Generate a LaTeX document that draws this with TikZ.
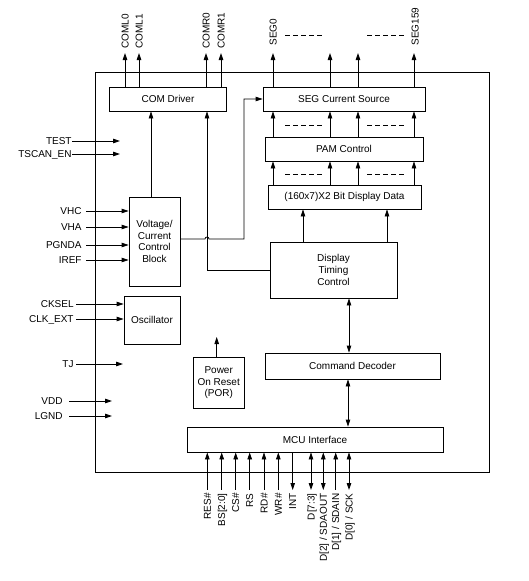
\documentclass[tikz,border=0pt]{standalone}
\usepackage{fontspec}
\setmainfont{Liberation Sans}
\usetikzlibrary{arrows.meta,calc}

\tikzset{
  blk/.style={draw, inner sep=1pt, align=center, font=\fontsize{10}{11.7}\selectfont},
  lbl/.style={inner sep=0pt, text height=7pt, text depth=0pt, font=\fontsize{10}{11.7}\selectfont},
  dashrow/.style={dash pattern=on 5pt off 3pt},
  pinin/.style={<-},
  pinout/.style={->},
  pinbi/.style={<->},
}

\begin{document}
\begin{tikzpicture}[x=1pt, y=-1pt, line width=0.8pt, >={Triangle[length=7pt,width=4.5pt]}]

    \useasboundingbox (0,0) rectangle (528,581);

    % 外枠
    \draw (95,72) rectangle (489,472);

    % ブロック
    \node[blk, minimum width=117pt, minimum height=24pt] (com) at (168,99) {COM Driver};
    \node[blk, minimum width=162pt, minimum height=24pt] (seg) at (344,99) {SEG Current Source};
    \node[blk, minimum width=158pt, minimum height=24pt] (pam) at (344,149) {PAM Control};
    \node[blk, minimum width=153pt, minimum height=24pt] (ram) at (344.5,197) {(160x7)X2 Bit Display Data};
    \node[blk, minimum width=127pt, minimum height=56pt] (dtc) at (333.5,270) {Display\\Timing\\Control};
    \node[blk, minimum width=175pt, minimum height=26pt] (cmd) at (352.5,366) {Command Decoder};
    \node[blk, minimum width=256pt, minimum height=25pt] (mcu) at (315,439.5) {MCU Interface};
    \node[blk, minimum width=51pt, minimum height=89pt] (vcc) at (154.5,241.5) {Voltage/\\Current\\Control\\Block};
    \node[blk, minimum width=56pt, minimum height=48pt] (osc) at (152,320) {Oscillator};
    \node[blk, minimum width=51pt, minimum height=51pt] (por) at (218.7,382.7) {Power\\On Reset\\(POR)};

    % COM出力
    \foreach \x/\t [count=\i] in {125/COML0, 139/COML1, 206/COMR0, 221/COMR1} {
        \coordinate (c\i) at (\x,53);
        \draw[->] (com.north -| c\i) -- (c\i);
        \node[lbl, rotate=90, anchor=west] (cl\i) at (\x,49) {\t};
    }

    % SEG出力・PAM・表示データ
    \foreach \x [count=\i] in {273,330,358,414} {
        \coordinate (s\i) at (\x,53);
        \draw[->] (seg.north -| s\i) -- (s\i);
        \draw[->] (pam.north -| s\i) -- (seg.south -| s\i);
        \draw[->] (ram.north -| s\i) -- (pam.south -| s\i);
    }
    \node[lbl, rotate=90, anchor=west] (sl0) at (273,46) {SEG0};
    \node[lbl, rotate=90, anchor=west] (sl159) at (415,46) {SEG159};

    % 点線
    \foreach \y in {35,125,174} {
        \draw[dashrow] (285,\y) -- (322,\y);
        \draw[dashrow] (367,\y) -- (405,\y);
    }

    % 内部接続
    \foreach \x in {303,387} {
        \draw[->] (dtc.north -| \x,0) -- (ram.south -| \x,0);
    }
    \draw[<->] (dtc.south -| 349,0) -- (cmd.north -| 349,0);
    \draw[<->] (cmd.south -| 348,0) -- (mcu.north -| 348,0);
    \coordinate (pt) at (216.7,337);
    \draw[->] (por.north -| pt) -- (pt);
    \draw[->] (vcc.north -| 151,0) -- (com.south -| 151,0);
    \draw[->] (vcc.east |- 0,239) -- (205,239) arc[start angle=180, end angle=360, radius=2]
        -- (244,239) -- (244,99) -- (seg.west);
    \draw[->] (dtc.west) -- (207,270) -- (com.south -| 207,0);

    % 左側の入力
    \foreach \y/\t in {141/TEST, 154/TSCAN\_EN} {
        \node[lbl, anchor=east] (l\y) at (72,\y) {\t};
        \draw[->] (l\y.east) -- (120,\y);
    }
    \foreach \y/\t in {211/VHC, 227/VHA, 245/PGNDA, 260/IREF} {
        \node[lbl, anchor=east] (l\y) at (82,\y) {\t};
        \draw[->] ([xshift=4pt]l\y.east) -- (vcc.west |- l\y);
    }
    \foreach \y/\t in {304/CKSEL, 319/CLK\_EXT} {
        \node[lbl, anchor=east] (l\y) at (74,\y) {\t};
        \draw[->] ([xshift=2pt]l\y.east) -- (osc.west |- l\y);
    }
    \node[lbl, anchor=east] (l364) at (74,364) {TJ};
    \draw[->] ([xshift=2pt]l364.east) -- (123,364);
    \foreach \y/\t in {401/VDD, 416/LGND} {
        \node[lbl, anchor=east] (l\y) at (63,\y) {\t};
        \draw[->] ([xshift=6pt]l\y.east) -- (112,\y);
    }

    % MCU端子
    \foreach \x/\t/\st [count=\i] in {207.3/RES\#/pinin, 221.7/BS[2:0]/pinin, 235.7/CS\#/pinin,
            249.7/RS/pinin, 264/RD\#/pinin, 278.3/WR\#/pinin, 292.7/INT/pinout,
            311/D[7:3]/pinbi, 323.3/{D[2] / SDAOUT}/pinbi, 335.7/{D[1] / SDAIN}/pinin,
            349/{D[0] / SCK}/pinbi} {
        \coordinate (p\i) at (\x,490);
        \draw[\st] (mcu.south -| p\i) -- (p\i);
        \node[lbl, rotate=90, anchor=east] (pl\i) at (\x,493) {\t};
    }

\end{tikzpicture}
\end{document}
